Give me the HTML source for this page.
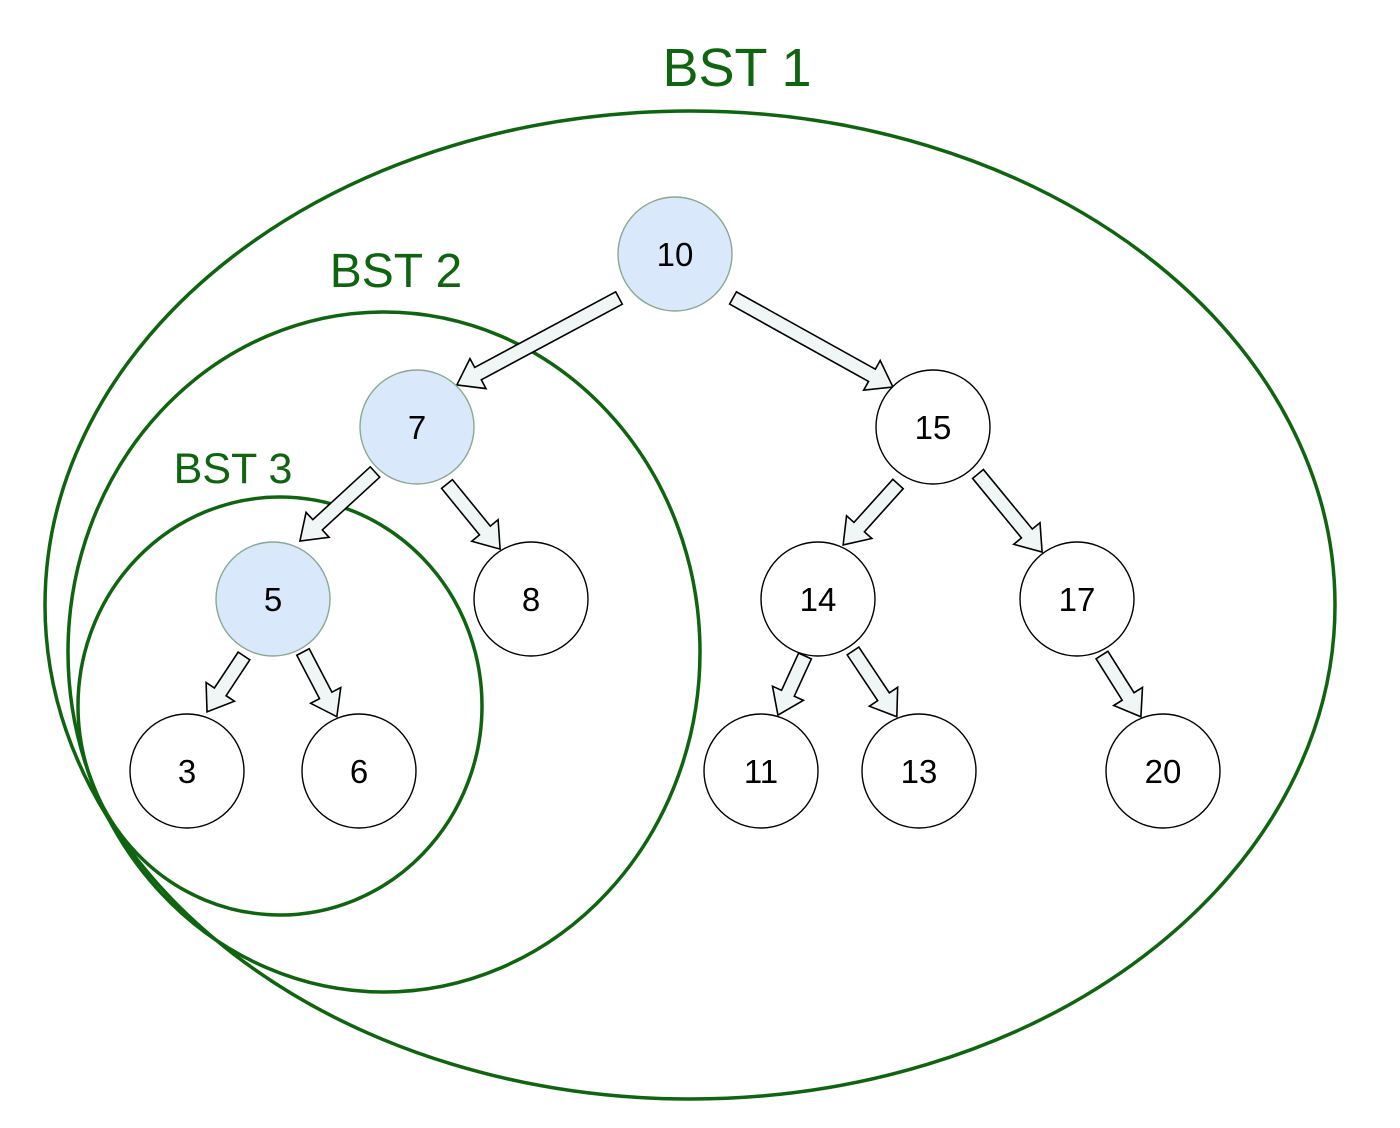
<!DOCTYPE html>
<html><head><style>body{margin:0;background:#fff}svg{display:block}</style></head><body>
<svg width="1400" height="1128" viewBox="0 0 1400 1128" xmlns="http://www.w3.org/2000/svg" font-family="Liberation Sans, sans-serif">
<g fill="none" stroke="#0f650f" stroke-width="3.5">
<ellipse cx="690" cy="605" rx="645" ry="494"/>
<ellipse cx="384" cy="652" rx="316" ry="340"/>
<ellipse cx="280" cy="706" rx="202" ry="209"/>
</g>
<g fill="#0f650f" text-anchor="middle">
<text x="737" y="86" font-size="54">BST 1</text>
<text x="396" y="287" font-size="48">BST 2</text>
<text x="233" y="483" font-size="43">BST 3</text>
</g>
<g fill="#f0f5f5" stroke="#000" stroke-width="1.6" stroke-linejoin="miter">
<g transform="translate(619,298) rotate(151.8)"><polygon points="0,-7 160,-7 160,-17 184,0 160,17 160,7 0,7"/></g>
<g transform="translate(733,298) rotate(29.1)"><polygon points="0,-7 159,-7 159,-17 183,0 159,17 159,7 0,7"/></g>
<g transform="translate(375,472) rotate(137.4)"><polygon points="0,-7 78,-7 78,-17 102,0 78,17 78,7 0,7"/></g>
<g transform="translate(447,484) rotate(50.8)"><polygon points="0,-7 60,-7 60,-17 84,0 60,17 60,7 0,7"/></g>
<g transform="translate(898,484) rotate(132)"><polygon points="0,-7 58,-7 58,-17 82,0 58,17 58,7 0,7"/></g>
<g transform="translate(978,474) rotate(50.6)"><polygon points="0,-7 77,-7 77,-17 101,0 77,17 77,7 0,7"/></g>
<g transform="translate(244,656) rotate(123.5)"><polygon points="0,-7 43,-7 43,-17 67,0 43,17 43,7 0,7"/></g>
<g transform="translate(303,652) rotate(62.4)"><polygon points="0,-7 49,-7 49,-17 73,0 49,17 49,7 0,7"/></g>
<g transform="translate(805,656) rotate(114.6)"><polygon points="0,-7 41,-7 41,-17 65,0 41,17 41,7 0,7"/></g>
<g transform="translate(853,651) rotate(56.3)"><polygon points="0,-7 55,-7 55,-17 79,0 55,17 55,7 0,7"/></g>
<g transform="translate(1102,655) rotate(57.8)"><polygon points="0,-7 49,-7 49,-17 73,0 49,17 49,7 0,7"/></g>
</g>
<g stroke-width="1.4">
<circle cx="675" cy="254" r="57" fill="#dae8fc" stroke="#8aa890"/>
<circle cx="417" cy="427" r="57" fill="#dae8fc" stroke="#8aa890"/>
<circle cx="273" cy="599" r="57" fill="#dae8fc" stroke="#8aa890"/>
<g fill="#fff" stroke="#000">
<circle cx="933" cy="427" r="57"/>
<circle cx="531" cy="599" r="57"/>
<circle cx="818" cy="599" r="57"/>
<circle cx="1077" cy="599" r="57"/>
<circle cx="187" cy="771" r="57"/>
<circle cx="359" cy="771" r="57"/>
<circle cx="761" cy="771" r="57"/>
<circle cx="919" cy="771" r="57"/>
<circle cx="1163" cy="771" r="57"/>
</g>
</g>
<g font-size="33" text-anchor="middle" fill="#000">
<text x="675" y="266">10</text>
<text x="417" y="439">7</text>
<text x="933" y="439">15</text>
<text x="273" y="611">5</text>
<text x="531" y="611">8</text>
<text x="818" y="611">14</text>
<text x="1077" y="611">17</text>
<text x="187" y="783">3</text>
<text x="359" y="783">6</text>
<text x="761" y="783">11</text>
<text x="919" y="783">13</text>
<text x="1163" y="783">20</text>
</g>
</svg>
</body></html>
